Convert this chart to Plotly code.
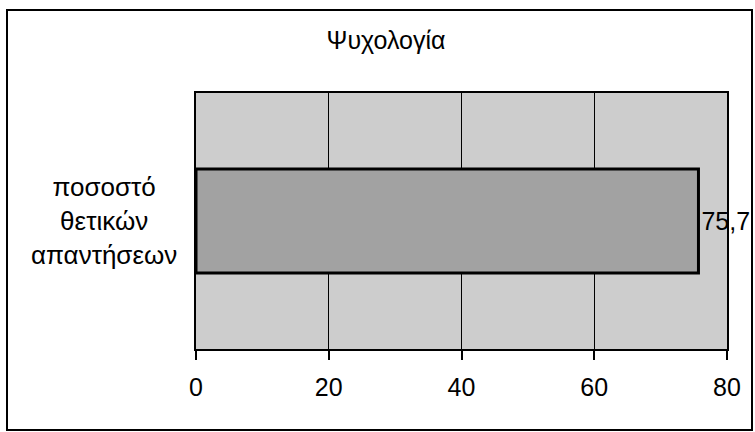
import plotly.graph_objects as go

title_text = "Ψυχολογία"
categories = ["ποσοστό<br>θετικών<br>απαντήσεων"]
values = [75.7]
value_labels = ["75,7"]
x_ticks = [0, 20, 40, 60, 80]

W, H = 755, 432
L, R, T, B = 196, 28, 93, 83
pw, ph = W - L - R, H - T - B

def px_x(p):
    return (p - L) / pw

def px_y(p):
    return (H - B - p) / ph

font_family = "Liberation Sans, Arial, sans-serif"

fig = go.Figure()
fig.add_trace(go.Bar(
    y=categories, x=values, orientation="h",
    width=0.406,
    marker=dict(color="#a2a2a2", line=dict(color="black", width=3)),
    text=value_labels, textposition="outside", cliponaxis=False,
    textfont=dict(family=font_family, size=25, color="black"),
))

fig.update_layout(
    width=W, height=H,
    margin=dict(l=L, r=R, t=T, b=B),
    paper_bgcolor="white",
    plot_bgcolor="#cdcdcd",
    showlegend=False,
    title=dict(text=title_text, x=386 / W, xref="container", xanchor="center",
               y=1 - 40 / H, yanchor="middle",
               font=dict(family=font_family, size=25, color="black")),
    font=dict(family=font_family, color="black"),
    xaxis=dict(range=[0, 80], tickvals=x_ticks, showgrid=True, gridcolor="black", gridwidth=1.2,
               showline=True, linecolor="black", linewidth=2, mirror=True,
               ticks="outside", ticklen=9, tickcolor="black", tickwidth=1.5,
               tickfont=dict(size=25, family=font_family, color="black"),
               ticklabelstandoff=6, zeroline=False, fixedrange=True),
    yaxis=dict(range=[-0.5, 0.5], showticklabels=False, showline=True, linecolor="black",
               linewidth=2, mirror=True, ticks="", showgrid=False, fixedrange=True),
    shapes=[dict(type="rect", xref="paper", yref="paper",
                 x0=px_x(7), x1=px_x(752), y0=px_y(430), y1=px_y(10),
                 line=dict(color="black", width=2), layer="below")],
    annotations=[dict(text=categories[0], xref="paper", yref="y", x=px_x(104), y=categories[0],
                      xanchor="center", yanchor="middle", showarrow=False, align="center",
                      font=dict(family=font_family, size=26, color="black"))],
)

fig.write_html("out.html", config={"displayModeBar": False},
               post_script="document.body.style.margin='0';")
